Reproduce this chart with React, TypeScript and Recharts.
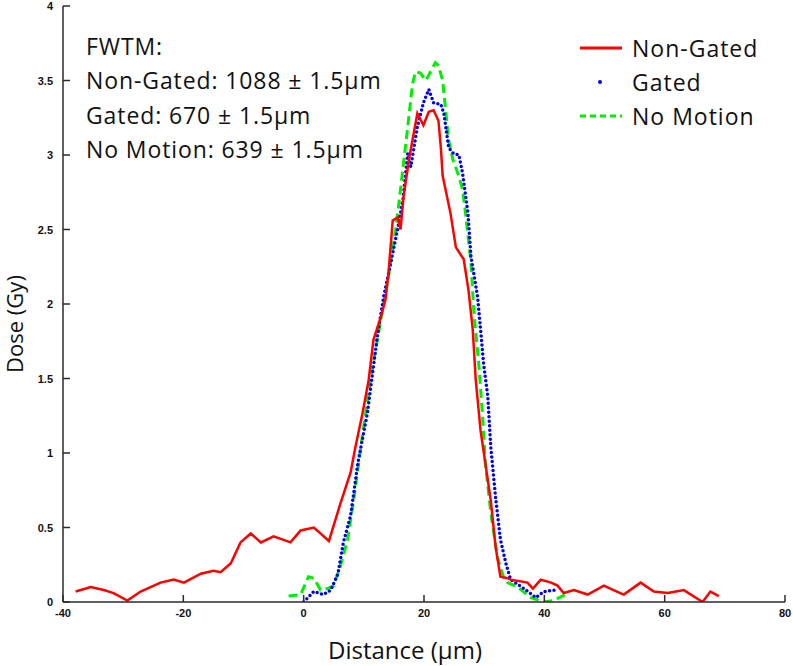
import { ComposedChart, Line, XAxis, YAxis } from "recharts";

// Non-Gated (red, solid)
const nonGatedDist = [
  -37.9, -35.4, -33.2, -31.6, -29.3, -27.1, -23.8, -21.6, -19.9, -17.1, -15.0, -13.8,
  -12.1, -10.5, -8.8, -7.1, -5.0, -2.2, -0.5, 1.7, 4.2, 6.1, 7.8, 8.6, 9.8, 10.8,
  11.6, 12.8, 13.6, 14.1, 14.8, 15.6, 16.1, 16.6, 17.5, 18.9, 19.9, 20.8, 21.6, 22.4,
  22.8, 23.1, 24.4, 25.3, 26.6, 27.4, 28.1, 28.6, 29.4, 30.2, 31.1, 31.9, 32.7, 33.9,
  34.4, 37.2, 38.1, 39.4, 41.1, 42.2, 43.2, 44.9, 47.2, 49.9, 51.5, 53.2, 56.0, 58.2,
  60.5, 63.2, 66.3, 67.6, 69.0,
];
const nonGatedDose = [
  0.07, 0.1, 0.08, 0.06, 0.01, 0.07, 0.13, 0.15, 0.13, 0.19, 0.21, 0.2,
  0.26, 0.4, 0.46, 0.4, 0.44, 0.4, 0.48, 0.5, 0.41, 0.66, 0.87, 1.04, 1.27, 1.49,
  1.76, 1.91, 2.03, 2.21, 2.56, 2.58, 2.5, 2.72, 2.97, 3.28, 3.2, 3.29, 3.3, 3.23,
  3.05, 2.86, 2.61, 2.38, 2.3, 2.09, 1.83, 1.49, 1.15, 0.93, 0.68, 0.37, 0.17, 0.16,
  0.15, 0.13, 0.09, 0.15, 0.13, 0.11, 0.06, 0.08, 0.05, 0.11, 0.08, 0.05, 0.13, 0.07,
  0.06, 0.08, 0.0, 0.07, 0.04,
];

// Gated (blue, dots)
const gatedDist = [
  0.0, 1.7, 3.3, 4.5, 5.7, 6.6, 7.8, 9.0, 10.6, 12.3, 13.3, 14.5, 15.6, 16.5, 17.3,
  17.8, 18.9, 19.9, 20.8, 21.6, 22.8, 23.3, 24.1, 24.9, 25.8, 26.4, 27.3, 27.8, 28.9,
  29.4, 29.9, 30.6, 31.1, 31.9, 32.7, 33.6, 34.4, 36.6, 38.6, 39.9, 41.9,
];
const gatedDose = [
  0.0, 0.07, 0.05, 0.08, 0.19, 0.4, 0.58, 0.93, 1.27, 1.8, 2.05, 2.28, 2.5, 2.7, 3.01,
  2.92, 3.19, 3.35, 3.44, 3.35, 3.34, 3.28, 3.05, 3.01, 3.0, 2.88, 2.61, 2.32, 2.05,
  1.83, 1.6, 1.38, 1.04, 0.7, 0.42, 0.26, 0.15, 0.09, 0.03, 0.07, 0.08,
];

// No Motion (green, dashed)
const noMotionDist = [
  -2.5, -0.5, 0.8, 1.7, 2.8, 4.0, 5.0, 6.1, 7.3, 8.3, 9.5, 11.1, 12.8, 14.0, 15.3,
  16.1, 17.3, 18.1, 18.6, 19.4, 20.3, 21.1, 21.9, 22.4, 23.1, 23.6, 24.1, 24.8, 25.6,
  26.4, 26.9, 27.8, 28.3, 29.1, 29.7, 30.2, 31.1, 32.2, 33.2, 33.9, 35.6, 37.7, 39.9,
  41.5, 43.5,
];
const noMotionDose = [
  0.04, 0.05, 0.17, 0.16, 0.08, 0.09, 0.11, 0.24, 0.42, 0.68, 1.04, 1.49, 1.89, 2.16,
  2.5, 2.77, 3.19, 3.48, 3.56, 3.55, 3.5, 3.56, 3.62, 3.6, 3.5, 3.3, 3.1, 2.97, 2.88,
  2.77, 2.61, 2.28, 1.94, 1.6, 1.27, 0.93, 0.6, 0.3, 0.17, 0.13, 0.1, 0.03, 0.0,
  0.01, 0.05,
];

const xTicks = [-40, -20, 0, 20, 40, 60, 80];
const yTicks = [0, 0.5, 1, 1.5, 2, 2.5, 3, 3.5, 4];

const fwtmLines = [
  "FWTM:",
  "Non-Gated: 1088 \u00b1 1.5\u00b5m",
  "Gated: 670 \u00b1 1.5\u00b5m",
  "No Motion: 639 \u00b1 1.5\u00b5m",
];

const toPoints = (xs: number[], ys: number[]) =>
  xs.map((d, i) => ({ dist: d, dose: ys[i] }));

const AXIS = "#2b2b2b";
const TICK_FONT = "'Liberation Sans', Arial, sans-serif";
const TEXT_FONT = "'Open Sans', Lato, sans-serif";

function BottomTick({ x, y, payload }: any) {
  return (
    <g>
      <line x1={x} x2={x} y1={y} y2={y - 7} stroke={AXIS} strokeWidth={1.5} />
      <text
        x={x}
        y={y + 15}
        textAnchor="middle"
        fontSize={11}
        fontWeight="bold"
        fontFamily={TICK_FONT}
        fill="#111"
      >
        {payload.value}
      </text>
    </g>
  );
}

function TopTick({ x, y }: any) {
  return <line x1={x} x2={x} y1={y} y2={y + 7} stroke={AXIS} strokeWidth={1.5} />;
}

function LeftTick({ x, y, payload }: any) {
  return (
    <g>
      <line x1={x} x2={x + 7} y1={y} y2={y} stroke={AXIS} strokeWidth={1.5} />
      <text
        x={x - 10}
        y={y + 4}
        textAnchor="end"
        fontSize={11}
        fontWeight="bold"
        fontFamily={TICK_FONT}
        fill="#111"
      >
        {payload.value}
      </text>
    </g>
  );
}

function RightTick({ x, y }: any) {
  return <line x1={x} x2={x - 7} y1={y} y2={y} stroke={AXIS} strokeWidth={1.5} />;
}

function LegendBox() {
  const row = { display: "flex", alignItems: "center", height: 34 };
  const label = { fontSize: 23, color: "#111", marginLeft: 9, letterSpacing: 1 };
  return (
    <div style={{ fontFamily: TEXT_FONT }}>
      <div style={row}>
        <svg width={44} height={10}>
          <line x1={1} x2={43} y1={5} y2={5} stroke="#ff0000" strokeWidth={3} />
        </svg>
        <span style={label}>Non-Gated</span>
      </div>
      <div style={row}>
        <svg width={44} height={10}>
          <circle cx={21} cy={5} r={2} fill="#0000ff" />
        </svg>
        <span style={label}>Gated</span>
      </div>
      <div style={row}>
        <svg width={44} height={10}>
          <line
            x1={1}
            x2={43}
            y1={5}
            y2={5}
            stroke="#00ee00"
            strokeWidth={3}
            strokeDasharray="6 4"
          />
        </svg>
        <span style={label}>No Motion</span>
      </div>
    </div>
  );
}

export default function App() {
  return (
    <div
      style={{
        position: "absolute",
        left: 0,
        top: 0,
        width: 793,
        height: 666,
        background: "#fff",
      }}
    >
      <ComposedChart
        width={793}
        height={666}
        margin={{ top: 6, right: 8, left: 0, bottom: 0 }}
      >
        <XAxis
          xAxisId="bottom"
          dataKey="dist"
          type="number"
          domain={[-40, 80]}
          ticks={xTicks}
          allowDataOverflow
          height={64}
          tickSize={0}
          tickMargin={0}
          tick={<BottomTick />}
          tickLine={false}
          axisLine={{ stroke: AXIS, strokeWidth: 1.5 }}
          interval={0}
        />
        <XAxis
          xAxisId="top"
          orientation="top"
          type="number"
          domain={[-40, 80]}
          ticks={xTicks}
          allowDataOverflow
          height={0}
          tickSize={0}
          tickMargin={0}
          tick={<TopTick />}
          tickLine={false}
          axisLine={{ stroke: AXIS, strokeWidth: 1.5 }}
          interval={0}
        />
        <YAxis
          yAxisId="left"
          type="number"
          domain={[0, 4]}
          ticks={yTicks}
          allowDataOverflow
          width={63}
          tickSize={0}
          tickMargin={0}
          tick={<LeftTick />}
          tickLine={false}
          axisLine={{ stroke: AXIS, strokeWidth: 1.5 }}
          interval={0}
        />
        <YAxis
          yAxisId="right"
          orientation="right"
          type="number"
          domain={[0, 4]}
          ticks={yTicks}
          allowDataOverflow
          width={0}
          tickSize={0}
          tickMargin={0}
          tick={<RightTick />}
          tickLine={false}
          axisLine={{ stroke: AXIS, strokeWidth: 1.5 }}
          interval={0}
        />
        <Line
          xAxisId="bottom"
          yAxisId="left"
          data={toPoints(noMotionDist, noMotionDose)}
          dataKey="dose"
          name="No Motion"
          type="linear"
          stroke="#00ee00"
          strokeWidth={3}
          strokeDasharray="9 5"
          dot={false}
          activeDot={false}
          isAnimationActive={false}
        />
        <Line
          xAxisId="bottom"
          yAxisId="left"
          data={toPoints(gatedDist, gatedDose)}
          dataKey="dose"
          name="Gated"
          type="linear"
          stroke="#0000ee"
          strokeWidth={3.5}
          strokeLinecap="round"
          strokeDasharray="0 4.5"
          dot={false}
          activeDot={false}
          isAnimationActive={false}
        />
        <Line
          xAxisId="bottom"
          yAxisId="left"
          data={toPoints(nonGatedDist, nonGatedDose)}
          dataKey="dose"
          name="Non-Gated"
          type="linear"
          stroke="#ff0000"
          strokeWidth={2.5}
          dot={false}
          activeDot={false}
          isAnimationActive={false}
        />
      </ComposedChart>

      <div style={{ position: "absolute", left: 579, top: 31 }}>
        <LegendBox />
      </div>

      <div
        style={{
          position: "absolute",
          left: 86,
          top: 29,
          fontFamily: TEXT_FONT,
          fontSize: 23,
          letterSpacing: 0.9,
          lineHeight: "34.3px",
          color: "#111",
          whiteSpace: "nowrap",
        }}
      >
        {fwtmLines.map((t) => (
          <div key={t}>{t}</div>
        ))}
      </div>

      <div
        style={{
          position: "absolute",
          left: 405,
          top: 636,
          transform: "translateX(-50%)",
          fontFamily: TEXT_FONT,
          fontSize: 24,
          color: "#111",
          whiteSpace: "nowrap",
          lineHeight: "28px",
        }}
      >
        Distance (µm)
      </div>

      <div
        style={{
          position: "absolute",
          left: 14,
          top: 324,
          transform: "translate(-50%, -50%) rotate(-90deg)",
          fontFamily: TEXT_FONT,
          fontSize: 22,
          color: "#111",
          whiteSpace: "nowrap",
          lineHeight: "26px",
        }}
      >
        Dose (Gy)
      </div>
    </div>
  );
}
